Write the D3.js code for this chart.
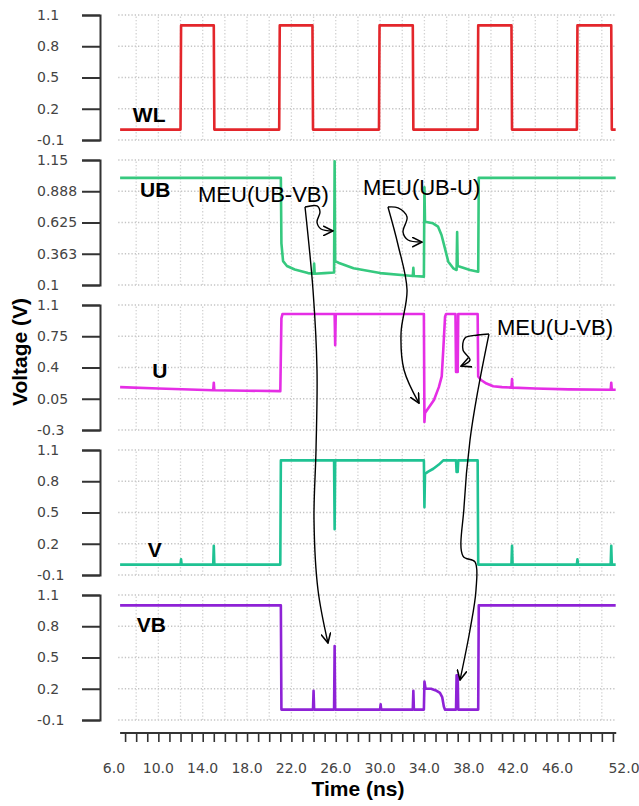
<!DOCTYPE html>
<html>
<head>
<meta charset="utf-8">
<script src="https://cdn.jsdelivr.net/npm/d3@7"></script>
<style>
  body { margin: 0; background: #fff; }
  svg { display: block; }
</style>
</head>
<body>
<svg id="chart" width="639" height="806"></svg>
<script>
// --- data (time in ns, voltage in V) ---
const panelNames = ["WL", "UB", "U", "V", "VB"];
const panelColors = ["#e3262b", "#36c97f", "#e52ee5", "#1fc293", "#8e22d6"];
const yDomains = [[-0.1, 1.1], [0.1, 1.15], [-0.3, 1.1], [-0.1, 1.1], [-0.1, 1.1]];
const yTicks = [
  [1.1, 0.8, 0.5, 0.2, -0.1],
  [1.15, 0.8875, 0.625, 0.3625, 0.1],
  [1.1, 0.75, 0.4, 0.05, -0.3],
  [1.1, 0.8, 0.5, 0.2, -0.1],
  [1.1, 0.8, 0.5, 0.2, -0.1]
];
const yTickLabels = [
  ["1.1", "0.8", "0.5", "0.2", "-0.1"],
  ["1.15", "0.888", "0.625", "0.363", "0.1"],
  ["1.1", "0.75", "0.4", "0.05", "-0.3"],
  ["1.1", "0.8", "0.5", "0.2", "-0.1"],
  ["1.1", "0.8", "0.5", "0.2", "-0.1"]
];
const xTickLabels = [6, 10, 14, 18, 22, 26, 30, 34, 38, 42, 46, 52];
const xMinorTicks = d3.range(7, 52, 1);
const xGrid = d3.range(8, 51, 2);

const wlData = [
  [6.55, 0], [12.0, 0], [12.05, 1], [15.0, 1], [15.05, 0], [20.9, 0], [20.95, 1],
  [23.9, 1], [23.95, 0], [29.9, 0], [29.95, 1], [32.95, 1], [33.0, 0], [38.8, 0],
  [38.85, 1], [41.85, 1], [41.9, 0], [47.75, 0], [47.8, 1], [50.85, 1], [50.9, 0], [51.25, 0]
];
const ubData = [
  [6.55, 1.0], [21.05, 1.0], [21.1, 0.45], [21.25, 0.3], [21.6, 0.26], [22.3, 0.23],
  [23.5, 0.2], [24.0, 0.195], [24.05, 0.28], [24.1, 0.195], [25.0, 0.2], [25.85, 0.205],
  [25.9, 1.14], [25.95, 0.3], [26.3, 0.285], [27.6, 0.24], [30.0, 0.2], [32.7, 0.178],
  [32.95, 0.175], [33.0, 0.245], [33.05, 0.175], [33.95, 0.17], [34.0, 0.92], [34.05, 0.632],
  [34.77, 0.618], [35.23, 0.59], [35.54, 0.52], [35.85, 0.408], [36.15, 0.296], [36.6, 0.24],
  [36.9, 0.226], [36.95, 0.545], [37.0, 0.26], [37.21, 0.254], [38.11, 0.226], [38.85, 0.212],
  [38.9, 1.0], [51.25, 1.0]
];
const uData = [
  [6.55, 0.18], [10, 0.165], [14.95, 0.145], [15.0, 0.23], [15.05, 0.145], [18, 0.14],
  [21.0, 0.135], [21.1, 0.95], [21.2, 1.0], [25.9, 1.0], [25.95, 0.65], [26.0, 1.0],
  [33.95, 1.0], [34.0, -0.21], [34.05, -0.11], [34.86, 0.036], [35.3, 0.18], [35.56, 0.3],
  [35.7, 0.6], [35.86, 0.97], [35.95, 1.0], [36.8, 1.0], [36.85, 0.35], [37.0, 0.35],
  [37.05, 1.0], [38.8, 1.0], [38.85, 0.3], [39.1, 0.26], [39.6, 0.22], [40.2, 0.19],
  [41.0, 0.18], [41.85, 0.175], [41.9, 0.27], [41.95, 0.175], [44, 0.165], [47, 0.155],
  [50.8, 0.15], [50.85, 0.23], [50.9, 0.15], [51.25, 0.15]
];
const vData = [
  [6.55, 0], [12.0, 0], [12.05, 0.05], [12.1, 0], [14.95, 0], [15.0, 0.18], [15.05, 0],
  [21.0, 0], [21.05, 1.0], [25.85, 1.0], [25.9, 0.34], [25.95, 1.0], [33.95, 1.0],
  [34.0, 0.55], [34.05, 0.87], [34.3, 0.89], [34.8, 0.92], [35.3, 0.96], [35.7, 1.0],
  [36.85, 1.0], [36.9, 0.89], [37.0, 0.89], [37.05, 1.0], [38.8, 1.0], [38.85, 0],
  [41.85, 0], [41.9, 0.18], [41.95, 0], [47.75, 0], [47.8, 0.05], [47.85, 0],
  [50.8, 0], [50.85, 0.18], [50.9, 0], [51.25, 0]
];
const vbData = [
  [6.55, 1.0], [21.05, 1.0], [21.1, 0], [23.95, 0], [24.0, 0.18], [24.05, 0], [25.85, 0],
  [25.9, 0.61], [25.95, 0], [30.0, 0], [30.05, 0.05], [30.1, 0], [32.95, 0], [33.0, 0.18],
  [33.05, 0], [33.95, 0], [34.0, 0.27], [34.1, 0.2], [34.6, 0.2], [35.1, 0.18], [35.4, 0.16],
  [35.6, 0.12], [35.75, 0.03], [35.85, 0], [36.85, 0], [36.9, 0.33], [37.0, 0.33],
  [37.05, 0], [38.85, 0], [38.9, 1.0], [51.25, 1.0]
];
const seriesData = [wlData, ubData, uData, vData, vbData];

// label anchor for each panel name: [time, volts]
const nameAnchors = [[7.7, 0.07], [8.35, 0.84], [9.45, 0.28], [9.05, 0.07], [8.05, 0.745]];

// annotations: points are [panel index, time, volts]
const annoTexts = [
  { text: "MEU(UB-VB)", at: [1, 13.58, 0.8] },
  { text: "MEU(UB-U)", at: [1, 28.46, 0.856] },
  { text: "MEU(U-VB)", at: [2, 40.54, 0.764] }
];
const annoPaths = [
  [[1, 23.23, 0.755], [1, 24.31, 0.764], [1, 24.58, 0.713], [1, 24.31, 0.629], [1, 24.67, 0.57], [1, 25.75, 0.554]],
  [[1, 23.23, 0.755], [2, 23.95, 1.268], [2, 24.31, 0.372], [3, 24.22, 1.1], [3, 24.04, 0.428], [4, 24.4, 1.148], [4, 25.3, 0.639]],
  [[1, 30.71, 0.755], [1, 31.62, 0.747], [1, 32.43, 0.671], [1, 32.07, 0.545], [1, 32.52, 0.478], [1, 33.78, 0.461]],
  [[1, 30.71, 0.755], [1, 31.62, 0.436], [2, 32.43, 1.268], [2, 31.89, 0.786], [2, 32.16, 0.372], [2, 33.51, 0.0]],
  [[2, 39.82, 0.775], [2, 38.83, 0.764], [2, 37.66, 0.73], [2, 37.48, 0.596], [2, 38.11, 0.484], [2, 37.3, 0.417]],
  [[2, 39.82, 0.775], [2, 38.83, 0.148], [3, 38.11, 1.196], [3, 37.57, 0.553], [3, 37.48, 0.082], [3, 38.56, 0.025],
   [4, 38.65, 1.148], [4, 38.11, 0.764], [4, 37.21, 0.284]]
];

// --- layout ---
const panelTop = [15, 160, 305, 450, 595];
const panelH = 125;
const axisX = 100;
const plotLeft = 6.38, plotRight = 51.3;

const svg = d3.select("#chart");
const x = d3.scaleLinear().domain([6, 52]).range([114, 624]);
const yScales = panelTop.map((top, i) =>
  d3.scaleLinear().domain(yDomains[i]).range([top + panelH, top]));

const defs = svg.append("defs");
defs.append("marker")
  .attr("id", "arrow")
  .attr("viewBox", "0 -5 10 10")
  .attr("refX", 9)
  .attr("refY", 0)
  .attr("markerWidth", 11)
  .attr("markerHeight", 11)
  .attr("orient", "auto")
  .attr("markerUnits", "userSpaceOnUse")
  .append("path")
  .attr("d", "M0,-4.5L9,0L0,4.5")
  .attr("fill", "none")
  .attr("stroke", "#000")
  .attr("stroke-width", 1.4);

panelNames.forEach((name, i) => {
  const y = yScales[i];
  const g = svg.append("g");

  // dotted grid
  g.append("g")
    .selectAll("line")
    .data(yTicks[i])
    .join("line")
    .attr("x1", x(plotLeft))
    .attr("x2", x(plotRight))
    .attr("y1", d => y(d))
    .attr("y2", d => y(d))
    .attr("stroke", "#c4c4c4")
    .attr("stroke-width", 1.3)
    .attr("stroke-dasharray", "1.3,2");

  g.append("g")
    .selectAll("line")
    .data(xGrid)
    .join("line")
    .attr("x1", d => x(d))
    .attr("x2", d => x(d))
    .attr("y1", y.range()[0])
    .attr("y2", y.range()[1])
    .attr("stroke", "#d2d2d2")
    .attr("stroke-width", 1.3)
    .attr("stroke-dasharray", "1.3,2");

  // left bracket axis
  const ax = g.append("g")
    .attr("transform", `translate(${axisX},0)`)
    .call(d3.axisLeft(y)
      .tickValues(yTicks[i])
      .tickSize(18)
      .tickSizeOuter(18)
      .tickFormat((d, j) => yTickLabels[i][j]));
  ax.select(".domain").attr("stroke", "#333").attr("stroke-width", 2);
  ax.selectAll(".tick line").attr("stroke", "#333").attr("stroke-width", 2);
  ax.selectAll(".tick text")
    .attr("x", -63)
    .attr("text-anchor", "start")
    .style("font-family", "DejaVu Sans, sans-serif")
    .style("font-size", "14px")
    .attr("fill", "#444");

  // waveform
  g.append("path")
    .datum(seriesData[i])
    .attr("fill", "none")
    .attr("stroke", panelColors[i])
    .attr("stroke-width", 2.6)
    .attr("stroke-linejoin", "round")
    .attr("d", d3.line().x(d => x(d[0])).y(d => y(d[1])));

  g.append("text")
    .attr("x", x(nameAnchors[i][0]))
    .attr("y", y(nameAnchors[i][1]))
    .text(name)
    .style("font-family", "Liberation Sans, Arial, sans-serif")
    .style("font-weight", "bold")
    .style("font-size", "21px")
    .attr("fill", "#000");
});

// bottom time axis
const axisY = 733;
const xAx = svg.append("g")
  .attr("transform", `translate(0,${axisY})`)
  .call(d3.axisBottom(x).tickValues(xMinorTicks).tickSize(9).tickFormat(""));
xAx.select(".domain").remove();
xAx.selectAll(".tick line").attr("stroke", "#333").attr("stroke-width", 1.6);
xAx.append("line")
  .attr("x1", x(6.55))
  .attr("x2", x(51.3))
  .attr("stroke", "#333")
  .attr("stroke-width", 1.8);

svg.append("g")
  .selectAll("text")
  .data(xTickLabels)
  .join("text")
  .attr("x", d => x(d))
  .attr("y", axisY + 40)
  .attr("text-anchor", "middle")
  .text(d => d.toFixed(1))
  .style("font-family", "DejaVu Sans, sans-serif")
  .style("font-size", "14px")
  .attr("fill", "#444");

svg.append("text")
  .attr("x", 358)
  .attr("y", 796)
  .attr("text-anchor", "middle")
  .text("Time (ns)")
  .style("font-family", "Liberation Sans, Arial, sans-serif")
  .style("font-weight", "bold")
  .style("font-size", "21px");

svg.append("text")
  .attr("transform", "translate(27,352) rotate(-90)")
  .attr("text-anchor", "middle")
  .text("Voltage (V)")
  .style("font-family", "Liberation Sans, Arial, sans-serif")
  .style("font-weight", "bold")
  .style("font-size", "21px");

// annotations
const toPx = p => [x(p[1]), yScales[p[0]](p[2])];

svg.append("g")
  .selectAll("path")
  .data(annoPaths)
  .join("path")
  .attr("d", d => d3.line().curve(d3.curveCatmullRom.alpha(0.5))(d.map(toPx)))
  .attr("fill", "none")
  .attr("stroke", "#000")
  .attr("stroke-width", 1.4)
  .attr("marker-end", "url(#arrow)");

svg.append("g")
  .selectAll("text")
  .data(annoTexts)
  .join("text")
  .attr("x", d => toPx(d.at)[0])
  .attr("y", d => toPx(d.at)[1])
  .text(d => d.text)
  .style("font-family", "Liberation Sans, Arial, sans-serif")
  .style("font-size", "22px")
  .attr("fill", "#000");
</script>
</body>
</html>
